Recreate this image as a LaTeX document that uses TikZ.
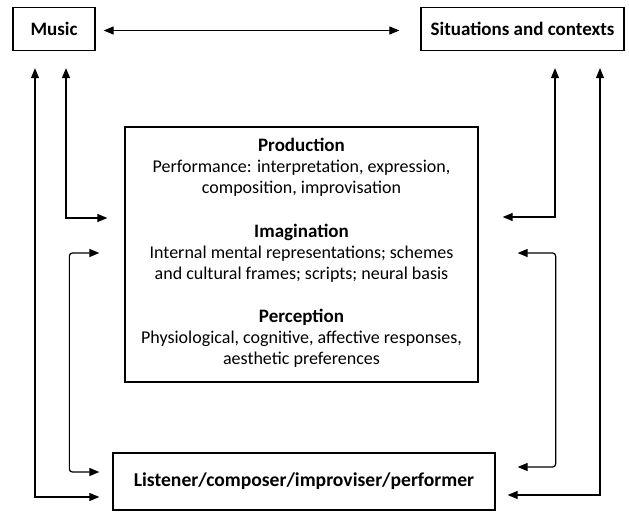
\documentclass[tikz,border=0pt]{standalone}
\usepackage{fontspec}
\setmainfont{Carlito}
\usetikzlibrary{arrows.meta,calc}

\begin{document}
\begin{tikzpicture}[x=1pt, y=-1pt,
		>={Triangle[length=10pt,width=8pt]},
		box/.style = {draw, line width=1.3pt, inner sep=0pt,
			font=\bfseries\fontsize{19}{21}\selectfont},
		corebox/.style = {draw, line width=1.3pt,
			minimum width=353pt, minimum height=255pt},
		blurb/.style = {align=center, inner sep=0pt,
			font=\fontsize{18}{21}\selectfont},
		link/.style = {line width=1.2pt}]

	\useasboundingbox (0,0) rectangle (629,512);

	% boxes
	\node[box, minimum width=82pt, minimum height=43pt] (music) at (54,29) {Music};
	\node[box, minimum width=203pt, minimum height=43pt] (sit) at (522.5,29) {Situations and contexts};
	\node[corebox] (core) at (301.5,254.5) {};
	\node[box, minimum width=382pt, minimum height=57pt,
		font=\bfseries\fontsize{19.6}{21}\selectfont] (listener) at (304,481.5)
		{Listener/composer/improviser/performer};

	% text inside the core box
	\node[blurb] (prod) at (301.5,167) {{\bfseries\fontsize{19}{21}\selectfont Production}\\
		Performance: interpretation, expression,\\ composition, improvisation};
	\node[blurb] (imag) at (301.5,253) {{\bfseries\fontsize{19}{21}\selectfont Imagination}\\
		Internal mental representations; schemes\\ and cultural frames; scripts; neural basis};
	\node[blurb] (perc) at (301.5,338) {{\bfseries\fontsize{19}{21}\selectfont Perception}\\
		Physiological, cognitive, affective responses,\\ aesthetic preferences};

	% connectors
	\draw[link, <->] ($(music.east)+(8,1.5)$) -- ($(sit.west)+(-21,1.5)$);
	\draw[link, <->] ($(music.south)+(12,17)$) |- ($(core.west)+(-17,-36.5)$);
	\draw[link, <->] ($(music.south)+(-19,17)$) |- ($(listener.west)+(-13,15.5)$);
	\draw[link, <->, rounded corners=3pt] ($(core.west)+(-25,-1.5)$) -- ++(-30,0)
		|- ($(listener.west)+(-13,-9.5)$);
	\draw[link, <->] ($(sit.south)+(32.5,17)$) |- ($(core.east)+(24,-37.5)$);
	\draw[link, <->, rounded corners=3pt] ($(core.east)+(39,-1.5)$) -- ++(38,0)
		|- ($(listener.east)+(22,-14.5)$);
	\draw[link, <->] ($(sit.south)+(77.5,17)$) |- ($(listener.east)+(12,13.5)$);
\end{tikzpicture}
\end{document}
